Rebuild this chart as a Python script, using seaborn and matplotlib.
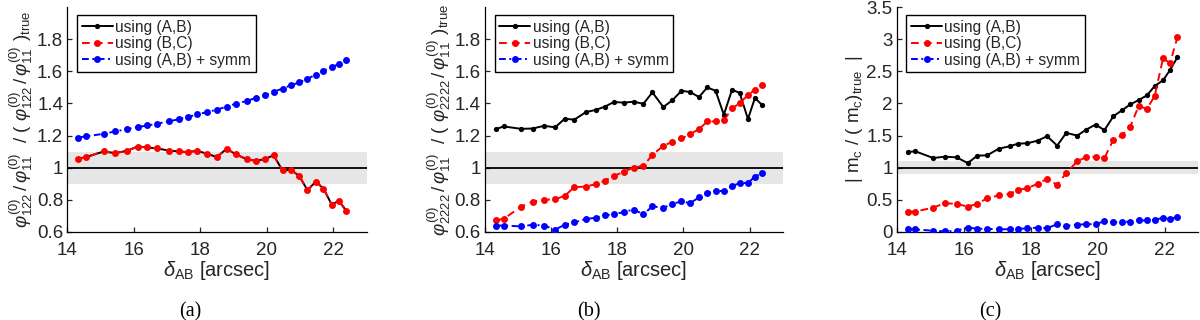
import matplotlib
matplotlib.use("Agg")
import matplotlib.pyplot as plt
import seaborn as sns
import numpy as np

# ---------------- data ----------------
delta_ab = [14.33, 14.56, 15.09, 15.44, 15.79, 16.12, 16.41, 16.70, 17.05, 17.37,
            17.62, 17.90, 18.21, 18.49, 18.79, 19.06, 19.39, 19.66, 19.94, 20.20,
            20.47, 20.72, 20.97, 21.22, 21.47, 21.70, 21.95, 22.16, 22.38]

a_using_AB = [1.055, 1.066, 1.101, 1.091, 1.105, 1.132, 1.126, 1.120, 1.107, 1.101,
              1.097, 1.105, 1.087, 1.066, 1.118, 1.084, 1.053, 1.043, 1.053, 1.078,
              0.983, 0.987, 0.949, 0.860, 0.914, 0.870, 0.770, 0.795, 0.733]
a_using_BC = [1.055, 1.066, 1.101, 1.091, 1.105, 1.132, 1.126, 1.120, 1.107, 1.101,
              1.097, 1.105, 1.087, 1.066, 1.118, 1.084, 1.053, 1.043, 1.053, 1.078,
              0.983, 0.987, 0.949, 0.860, 0.914, 0.870, 0.770, 0.795, 0.733]
a_using_symm = [1.188, 1.195, 1.211, 1.226, 1.240, 1.253, 1.263, 1.274, 1.288, 1.303,
                1.315, 1.332, 1.346, 1.361, 1.380, 1.398, 1.415, 1.434, 1.450, 1.473,
                1.492, 1.513, 1.531, 1.554, 1.579, 1.604, 1.625, 1.646, 1.669]

b_using_AB = [1.240, 1.257, 1.242, 1.244, 1.261, 1.251, 1.305, 1.299, 1.346, 1.361,
              1.380, 1.409, 1.405, 1.411, 1.398, 1.469, 1.378, 1.419, 1.479, 1.471,
              1.440, 1.500, 1.479, 1.330, 1.486, 1.465, 1.303, 1.434, 1.390]
b_using_BC = [0.675, 0.681, 0.758, 0.789, 0.800, 0.804, 0.825, 0.879, 0.883, 0.899,
              0.920, 0.949, 0.976, 1.001, 1.012, 1.080, 1.136, 1.161, 1.182, 1.209,
              1.240, 1.288, 1.288, 1.294, 1.369, 1.402, 1.452, 1.486, 1.517]
b_using_symm = [0.640, 0.640, 0.635, 0.645, 0.640, 0.615, 0.645, 0.660, 0.680, 0.690,
                0.705, 0.710, 0.725, 0.740, 0.710, 0.760, 0.750, 0.775, 0.790, 0.780,
                0.815, 0.840, 0.855, 0.855, 0.885, 0.905, 0.905, 0.945, 0.965]

c_using_AB = [1.245, 1.255, 1.151, 1.172, 1.161, 1.073, 1.188, 1.193, 1.297, 1.333,
              1.375, 1.380, 1.422, 1.490, 1.344, 1.542, 1.500, 1.594, 1.672, 1.583,
              1.802, 1.891, 1.984, 2.052, 2.125, 2.271, 2.360, 2.520, 2.720]
c_using_BC = [0.318, 0.318, 0.380, 0.448, 0.438, 0.396, 0.438, 0.526, 0.568, 0.594,
              0.656, 0.682, 0.750, 0.828, 0.734, 0.917, 1.099, 1.167, 1.167, 1.151,
              1.438, 1.505, 1.635, 1.958, 1.917, 2.115, 2.700, 2.630, 3.030]
c_using_symm = [0.050, 0.040, 0.020, 0.010, 0.020, 0.070, 0.050, 0.050, 0.040, 0.045,
                0.050, 0.055, 0.070, 0.060, 0.120, 0.095, 0.115, 0.120, 0.125, 0.165,
                0.150, 0.160, 0.160, 0.180, 0.180, 0.190, 0.220, 0.210, 0.230]

legend_labels = ["using (A,B)", "using (B,C)", "using (A,B) + symm"]

a_yticks = [0.6, 0.8, 1.0, 1.2, 1.4, 1.6, 1.8]
a_yticklabels = ["0.6", "0.8", "1", "1.2", "1.4", "1.6", "1.8"]
c_yticks = [0, 0.5, 1, 1.5, 2, 2.5, 3, 3.5]
c_yticklabels = ["0", "0.5", "1", "1.5", "2", "2.5", "3", "3.5"]
xticks = [14, 16, 18, 20, 22]
captions = ["(a)", "(b)", "(c)"]

ylab_a = (r"$\varphi^{(0)}_{122}\,/\,\varphi^{(0)}_{11}\ \ /\ (\ \varphi^{(0)}_{122}\,/\,"
          r"\varphi^{(0)}_{11}\ )_{\rm true}$")
ylab_b = (r"$\varphi^{(0)}_{2222}\,/\,\varphi^{(0)}_{11}\ \ /\ (\ \varphi^{(0)}_{2222}\,/\,"
          r"\varphi^{(0)}_{11}\ )_{\rm true}$")
ylab_c = r"$|\ \mathrm{m}_{\rm c}\ /\ (\ \mathrm{m}_{\rm c})_{\rm true}\ \ |$"
xlab = r"$\delta_{\rm AB}$ [arcsec]"

# ---------------- style ----------------
sns.set_theme(style="ticks")
plt.rcParams["font.family"] = ["Liberation Sans", "DejaVu Sans"]
plt.rcParams["mathtext.fontset"] = "custom"
plt.rcParams["mathtext.rm"] = "Liberation Sans"
plt.rcParams["mathtext.it"] = "Liberation Sans:italic"
plt.rcParams["mathtext.bf"] = "Liberation Sans:bold"

dark = "#262626"

fig = plt.figure(figsize=(12, 3.2), dpi=100)
bottom, height = 0.275, 0.703
rects = [(67.3 / 1200, bottom, 299.4 / 1200, height),
         (485.0 / 1200, bottom, 297.7 / 1200, height),
         (896.7 / 1200, bottom, 301.5 / 1200, height)]

panels = [
    (a_using_AB, a_using_BC, a_using_symm, (0.6, 2.0), a_yticks, a_yticklabels, ylab_a),
    (b_using_AB, b_using_BC, b_using_symm, (0.6, 2.0), a_yticks, a_yticklabels, ylab_b),
    (c_using_AB, c_using_BC, c_using_symm, (0.0, 3.5), c_yticks, c_yticklabels, ylab_c),
]
caption_x = [190, 589, 990]

for i, (rect, (yab, ybc, ysym, ylim, yt, ytl, ylab)) in enumerate(zip(rects, panels)):
    ax = fig.add_axes(rect)
    ax.axhspan(0.9, 1.1, color="#e6e6e6", lw=0, zorder=0)
    ax.axhline(1.0, color="black", lw=1.3, zorder=1)

    sns.lineplot(x=delta_ab, y=yab, ax=ax, color="black", lw=1.4, marker="o",
                 markersize=3.8, markeredgewidth=0, label=legend_labels[0], zorder=3)
    sns.lineplot(x=delta_ab, y=ybc, ax=ax, color="#ff0000", lw=1.4, marker="o",
                 markersize=5, markeredgewidth=0, label=legend_labels[1], zorder=4)
    ax.lines[-1].set_dashes((4, 2.6))
    sns.lineplot(x=delta_ab, y=ysym, ax=ax, color="#0000ff", lw=1.4, marker="o",
                 markersize=5, markeredgewidth=0, label=legend_labels[2], zorder=5)
    ax.lines[-1].set_dashes((3.5, 1.8, 1.0, 1.8))

    ax.set_xlim(14, 23)
    ax.set_ylim(*ylim)
    ax.set_xticks(xticks)
    ax.set_xticklabels([str(t) for t in xticks])
    ax.set_yticks(yt)
    ax.set_yticklabels(ytl)
    ax.tick_params(direction="in", length=3.5, width=0.9, colors=dark,
                   labelsize=13.5, labelcolor=dark)
    ax.tick_params(axis="x", pad=7)
    ax.tick_params(axis="y", pad=3)
    for s in ["top", "right"]:
        ax.spines[s].set_visible(False)
    for s in ["left", "bottom"]:
        ax.spines[s].set_color("black")
        ax.spines[s].set_linewidth(0.9)
    ax.set_xlabel(xlab, fontsize=14.5, color=dark, labelpad=0)
    ax.set_ylabel(ylab, fontsize=13.5, color=dark, labelpad=1)

    handles, labels = ax.get_legend_handles_labels()
    leg = ax.legend(handles[:3], labels[:3], loc="upper left",
                    bbox_to_anchor=(0.032, 0.965), borderaxespad=0, fontsize=11.2,
                    frameon=True, fancybox=False, framealpha=1, edgecolor="black",
                    handlelength=2.0, handletextpad=0.15, labelspacing=0.1,
                    borderpad=0.3)
    leg.get_frame().set_linewidth(1.0)
    for t in leg.get_texts():
        t.set_color(dark)

    fig.text(caption_x[i] / 1200, 1 - 312 / 320, captions[i], ha="center",
             va="center", fontsize=14.5, family="Liberation Serif", color="black")

fig.savefig("out.png", dpi=100)
